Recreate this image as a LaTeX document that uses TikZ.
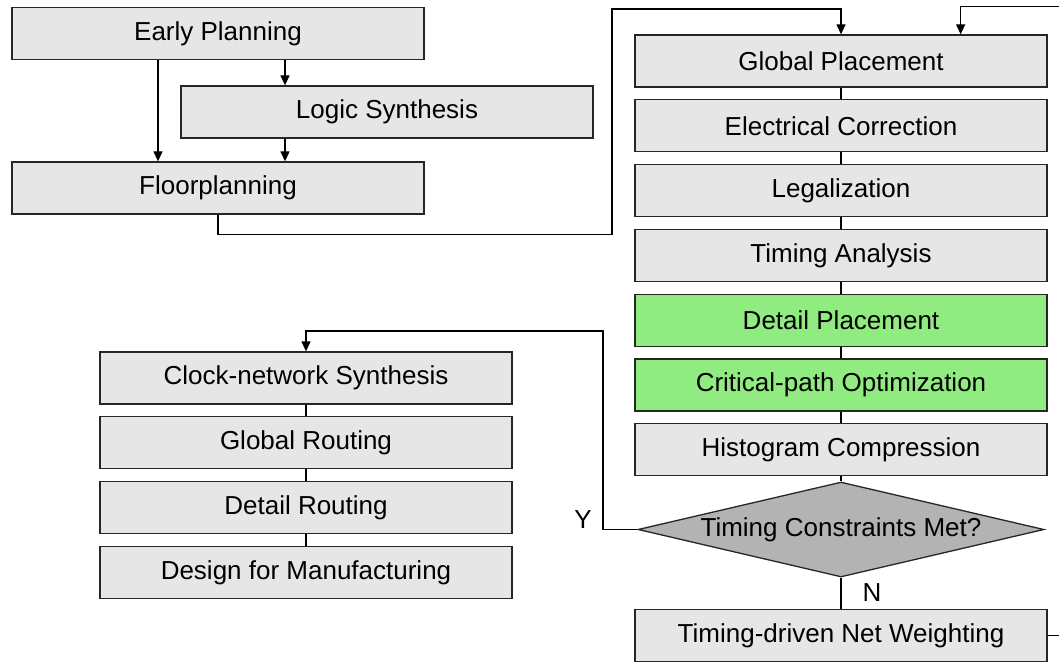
\documentclass[tikz,border=0pt]{standalone}
\usepackage{fontspec}
\setmainfont{Liberation Sans}
\usetikzlibrary{arrows.meta,positioning,shapes.geometric}
\definecolor{boxgray}{HTML}{E6E6E6}
\definecolor{optgreen}{HTML}{90EB80}
\definecolor{testgray}{HTML}{B3B3B3}
\tikzset{
  stage/.style={draw=black!85,line width=1.3pt,fill=boxgray,minimum width=412pt,
    minimum height=52pt,inner sep=0pt,font=\fontsize{26}{30}\selectfont},
  hot/.style={stage,fill=optgreen},
  test/.style={diamond,aspect=4.27,draw=black!85,line width=1.3pt,fill=testgray,
    minimum width=406pt,minimum height=95pt,inner sep=0pt,font=\fontsize{26}{30}\selectfont},
  flow/.style={line width=1.3pt,-{Triangle[length=10pt,width=9pt]}},
  link/.style={line width=1.3pt},
  tag/.style={font=\fontsize{26}{30}\selectfont}
}
\begin{document}
\begin{tikzpicture}[x=1pt,y=1pt,node distance=11.5pt]
\useasboundingbox (0,0) rectangle (1059,662);
\clip (0,0) rectangle (1059,662);
% front end
\node[stage] (ep) at (218,628.5) {Early Planning};
\node[stage] (ls) at (387,550) {Logic Synthesis};
\node[stage] (fp) at (218,474) {Floorplanning};
% placement loop
\node[stage] (gp) at (841,601) {Global Placement};
\node[stage,below=of gp] (ec) {Electrical Correction};
\node[stage,below=of ec] (lg) {Legalization};
\node[stage,below=of lg] (ta) {Timing Analysis};
\node[hot,below=of ta] (dp) {Detail Placement};
\node[hot,below=of dp] (co) {Critical-path Optimization};
\node[stage,below=of co] (hc) {Histogram Compression};
\node[test] (tcm) at (841,132.5) {Timing Constraints Met?};
\node[stage] (tnw) at (841,26.5) {Timing-driven Net Weighting};
% routing
\node[stage] (cns) at (306,284) {Clock-network Synthesis};
\node[stage,below=of cns] (gr) {Global Routing};
\node[stage,below=of gr] (dr) {Detail Routing};
\node[stage,below=of dr] (dfm) {Design for Manufacturing};
\node[tag] (ylab) at (583,142) {Y};
\node[tag] (nlab) at (872,69) {N};

\draw[flow] ([xshift=-60pt]ep.south) -- ([xshift=-60pt]fp.north);
\draw[flow] ([xshift=67pt]ep.south) -- ([xshift=-102pt]ls.north);
\draw[flow] ([xshift=-102pt]ls.south) -- ([xshift=67pt]fp.north);
\draw[flow] (fp.south) -- ++(0,-20) -| (612,653) -| (gp.north);
\foreach \a/\b in {gp/ec,ec/lg,lg/ta,ta/dp,dp/co,co/hc,hc/tcm,tcm/tnw,cns/gr,gr/dr,dr/dfm}
  \draw[link] (\a) -- (\b);
\draw[flow] (tcm.west) -| (603,331) -| (cns.north);
\draw[flow] (tnw.east) -- ++(30,0) -- ++(0,629) -| ([xshift=-87pt]gp.north east);
\end{tikzpicture}
\end{document}
